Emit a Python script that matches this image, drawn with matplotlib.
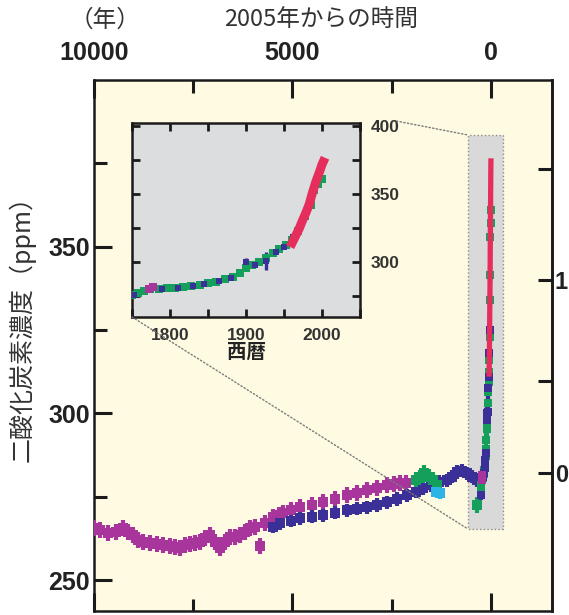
import numpy as np
import matplotlib.pyplot as plt
from matplotlib.patches import Rectangle, ConnectionPatch

plt.rcParams['font.family'] = ['Liberation Sans', 'Noto Sans CJK JP', 'DejaVu Sans']
CJK = ['Noto Sans CJK JP', 'DejaVu Sans']

# ---- data -------------------------------------------------------------
# ice cores, years before 2005
magenta_bp = [10000, 9850, 9650, 9450, 9270, 9150, 9020, 8900, 8770, 8600, 8420, 8250,
              8090, 7950, 7840, 7700, 7590, 7450, 7330, 7200, 7080, 6950, 6830, 6700,
              6580, 6450, 6330, 6200, 6070, 5950, 5820, 5700, 5490, 5350, 5240, 5050,
              4810, 4520, 4230, 3930, 3630, 3380, 3120, 2870, 2620, 2450, 2290, 2150]
magenta_ppm = [265.5, 265.0, 264.0, 264.5, 265.5, 264.5, 263.4, 262.0, 261.3, 261.0, 260.9, 260.5,
               260.3, 260.0, 259.7, 260.5, 260.9, 261.0, 261.3, 262.5, 263.4, 261.5, 259.7, 261.5,
               262.8, 263.0, 263.4, 264.5, 265.5, 266.0, 260.3, 267.0, 268.8, 269.5, 270.0, 271.0,
               271.8, 272.5, 273.3, 274.3, 275.4, 276.2, 276.9, 277.6, 278.4, 278.7, 279.0, 279.0]

blue_bp = [5500, 5320, 5050, 4810, 4520, 4230, 3930, 3630, 3380, 3120, 2870, 2620, 2370,
           2120, 1900, 1710, 1500, 1300, 1110, 980, 860, 730, 600, 480, 350, 270]
blue_ppm = [266.0, 267.0, 267.8, 268.5, 269.0, 269.4, 270.2, 270.9, 271.4, 271.8, 272.5, 273.3, 274.3,
            275.4, 276.5, 277.5, 278.5, 279.5, 279.9, 281.0, 282.4, 282.8, 282.0, 281.0, 280.0, 279.5]

green_bp = [1900, 1790, 1680, 1570, 1460, 1350, 350]
green_ppm = [280.0, 280.7, 282.0, 281.0, 279.9, 278.5, 272.5]

cyan_bp = [1380, 1290]
cyan_ppm = [276.5, 276.0]

# last ~250 years, calendar years
green_ad = [1750, 1758, 1766, 1774, 1785, 1796, 1806, 1817, 1828, 1839, 1850, 1861, 1872,
            1883, 1892, 1900, 1908, 1917, 1926, 1935, 1944, 1952, 1960, 1968, 1978, 1985,
            1990, 1995, 2000]
green_ad_ppm = [276.0, 277.0, 278.5, 280.0, 280.5, 280.6, 281.2, 281.9, 282.5, 283.1, 284.2, 285.5, 287.2,
                289.2, 292.0, 295.3, 297.5, 300.2, 303.2, 306.4, 309.5, 312.5, 316.0, 323.0, 334.0, 341.5,
                353.0, 357.0, 361.0]

blue_ad = [1752, 1790, 1810, 1830, 1845, 1865, 1880, 1900, 1912, 1926, 1940, 1950, 1962, 1970]
blue_ad_ppm = [275.5, 280.0, 281.0, 282.0, 283.5, 286.0, 288.0, 300.0, 298.0, 300.5, 307.5, 311.0,
               318.0, 325.0]
blue_ad_err = [1.5, 1.5, 1.5, 1.5, 1.5, 1.5, 1.5, 3.0, 1.5, 6.5, 1.5, 1.5, 1.5, 1.5]

magenta_ad = [1772, 1777]
magenta_ad_ppm = [280.0, 281.5]

red_ad = [1958, 1962, 1966, 1970, 1974, 1978, 1983, 1987, 1992, 1996, 2000, 2004]
red_ppm = [311.0, 315.5, 320.0, 324.5, 330.0, 335.0, 342.0, 350.0, 359.0, 365.0, 371.5, 376.5]

# zoom box shown on the main panel
zoom_bp = [579, -302]
zoom_ppm = [265.3, 383.5]

MAG = '#A8359B'
BLU = '#3B3098'
GRN = '#14A05A'
CYN = '#2CB4E6'
RED = '#E62E5C'

W, H = 569, 615
fig = plt.figure(figsize=(W / 100, H / 100), dpi=100)
fig.patch.set_facecolor('white')

def fbox(l, t, r, b):
    return [l / W, 1 - b / H, (r - l) / W, (b - t) / H]

# ---- main panel ---------------------------------------------------------
ax = fig.add_axes(fbox(94, 80, 552, 611))
ax.set_facecolor('#FFFBE2')
ax.set_xlim(10000, -1537)
ax.set_ylim(240.7, 400)

ax.add_patch(Rectangle((min(zoom_bp), zoom_ppm[0]), abs(zoom_bp[0] - zoom_bp[1]),
                       zoom_ppm[1] - zoom_ppm[0], facecolor='#D9D9D9',
                       edgecolor='#8a8a8a', linestyle=':', lw=1, zorder=1))

def ebar(a, x, y, c, err=2.4, ms=6.5, cap=4.2, lw=3.0):
    a.errorbar(x, y, yerr=err, fmt='s', ms=ms, color=c, ecolor=c, elinewidth=lw,
               capsize=cap, capthick=lw, mew=0, zorder=3)

ebar(ax, magenta_bp, magenta_ppm, MAG)
ebar(ax, blue_bp, blue_ppm, BLU, err=2.0)
ebar(ax, green_bp, green_ppm, GRN)
ebar(ax, cyan_bp, cyan_ppm, CYN, err=1.6)

bp = lambda yrs: 2005 - np.asarray(yrs)
ebar(ax, bp(green_ad), green_ad_ppm, GRN, err=2.0, ms=5.5)
ebar(ax, bp(blue_ad), blue_ad_ppm, BLU, err=blue_ad_err, ms=5.5)
ebar(ax, bp(magenta_ad), magenta_ad_ppm, MAG, ms=5.5)
ax.plot(bp(red_ad), red_ppm, color=RED, lw=3.8, zorder=4, solid_capstyle='butt')

ax.set_xticks([10000, 5000, 0])
ax.set_xticks([7500, 2500], minor=True)
ax.set_yticks([250, 300, 350])
ax.set_yticks([275, 325, 375], minor=True)
ax.tick_params(axis='x', which='both', direction='in', top=True, bottom=True,
               labeltop=True, labelbottom=False, pad=11)
ax.tick_params(axis='y', which='both', direction='in', left=True, right=False, pad=3)
ax.tick_params(which='major', length=13, width=2.2, color='#1a1a1a',
               labelsize=18, labelcolor='#222222')
ax.tick_params(which='minor', length=9, width=2.2, color='#1a1a1a')
for lab in ax.get_xticklabels() + ax.get_yticklabels():
    lab.set_fontweight('bold')
for s in ax.spines.values():
    s.set_linewidth(1.8)
    s.set_color('#1a1a1a')

C0 = 282.0
sec = ax.secondary_yaxis('right', functions=(lambda c: 5.35 * np.log(np.clip(c, 1, None) / C0),
                                             lambda f: C0 * np.exp(f / 5.35)))
sec.set_yticks([0, 1])
sec.set_yticks([0.5, 1.5], minor=True)
sec.tick_params(which='both', direction='in', length=10, width=2.2, color='#1a1a1a',
                labelsize=17, labelcolor='#222222', pad=2)
sec.spines['right'].set_linewidth(1.8)
for lab in sec.get_yticklabels():
    lab.set_fontweight('bold')

fig.text(105 / W, 1 - 20 / H, '（年）', family=CJK, fontsize=17, color='#333333',
         ha='center', va='center')
fig.text(321 / W, 1 - 19 / H, '2005年からの時間', family=CJK, fontsize=17, color='#333333',
         ha='center', va='center')
fig.text(22 / W, 1 - 322 / H, '二酸化炭素濃度（ppm）', family=CJK, fontsize=18,
         color='#333333', ha='center', va='center', rotation=90)

# ---- inset ----------------------------------------------------------------
ins = fig.add_axes(fbox(132, 123, 360, 317))
ins.set_facecolor('#DCDDDF')
ins.set_xlim(1750, 2050)
ins.set_ylim(259.6, 402)
ebar(ins, green_ad, green_ad_ppm, GRN, err=2.0, ms=6, cap=3.5, lw=2.6)
ebar(ins, blue_ad, blue_ad_ppm, BLU, err=blue_ad_err, ms=5, cap=3.2, lw=2.4)
ebar(ins, magenta_ad, magenta_ad_ppm, MAG, ms=6, cap=3.5, lw=2.6)
ins.plot(red_ad, red_ppm, color=RED, lw=6.5, zorder=4, solid_capstyle='butt')

ins.set_xticks([1800, 1900, 2000])
ins.set_xticks([1750, 1850, 1950, 2050], minor=True)
ins.set_yticks([300, 350, 400])
ins.set_yticks([275, 325, 375], minor=True)
ins.tick_params(which='both', direction='in', top=True, bottom=True, left=True, right=True,
                labelleft=False, labelright=True, length=6, width=2, color='#1a1a1a',
                labelsize=12.5, labelcolor='#333333')
ins.tick_params(axis='x', pad=8)
ins.tick_params(axis='y', pad=8)
for lab in ins.get_xticklabels() + ins.get_yticklabels():
    lab.set_fontweight('bold')
for s in ins.spines.values():
    s.set_linewidth(1.8)
    s.set_color('#1a1a1a')
ins.set_xlabel('西暦', family=CJK, fontsize=14, fontweight='bold', color='#222222',
               labelpad=0)

for xa, xb in [((1.16, 1.01), (zoom_bp[0], zoom_ppm[1])), ((0, 0), (zoom_bp[0], zoom_ppm[0]))]:
    con = ConnectionPatch(xyA=xa, coordsA=ins.transAxes, xyB=xb, coordsB=ax.transData,
                          color='#7a7a7a', lw=1, linestyle=':', zorder=2)
    fig.add_artist(con)

fig.savefig('out.png', dpi=100)
